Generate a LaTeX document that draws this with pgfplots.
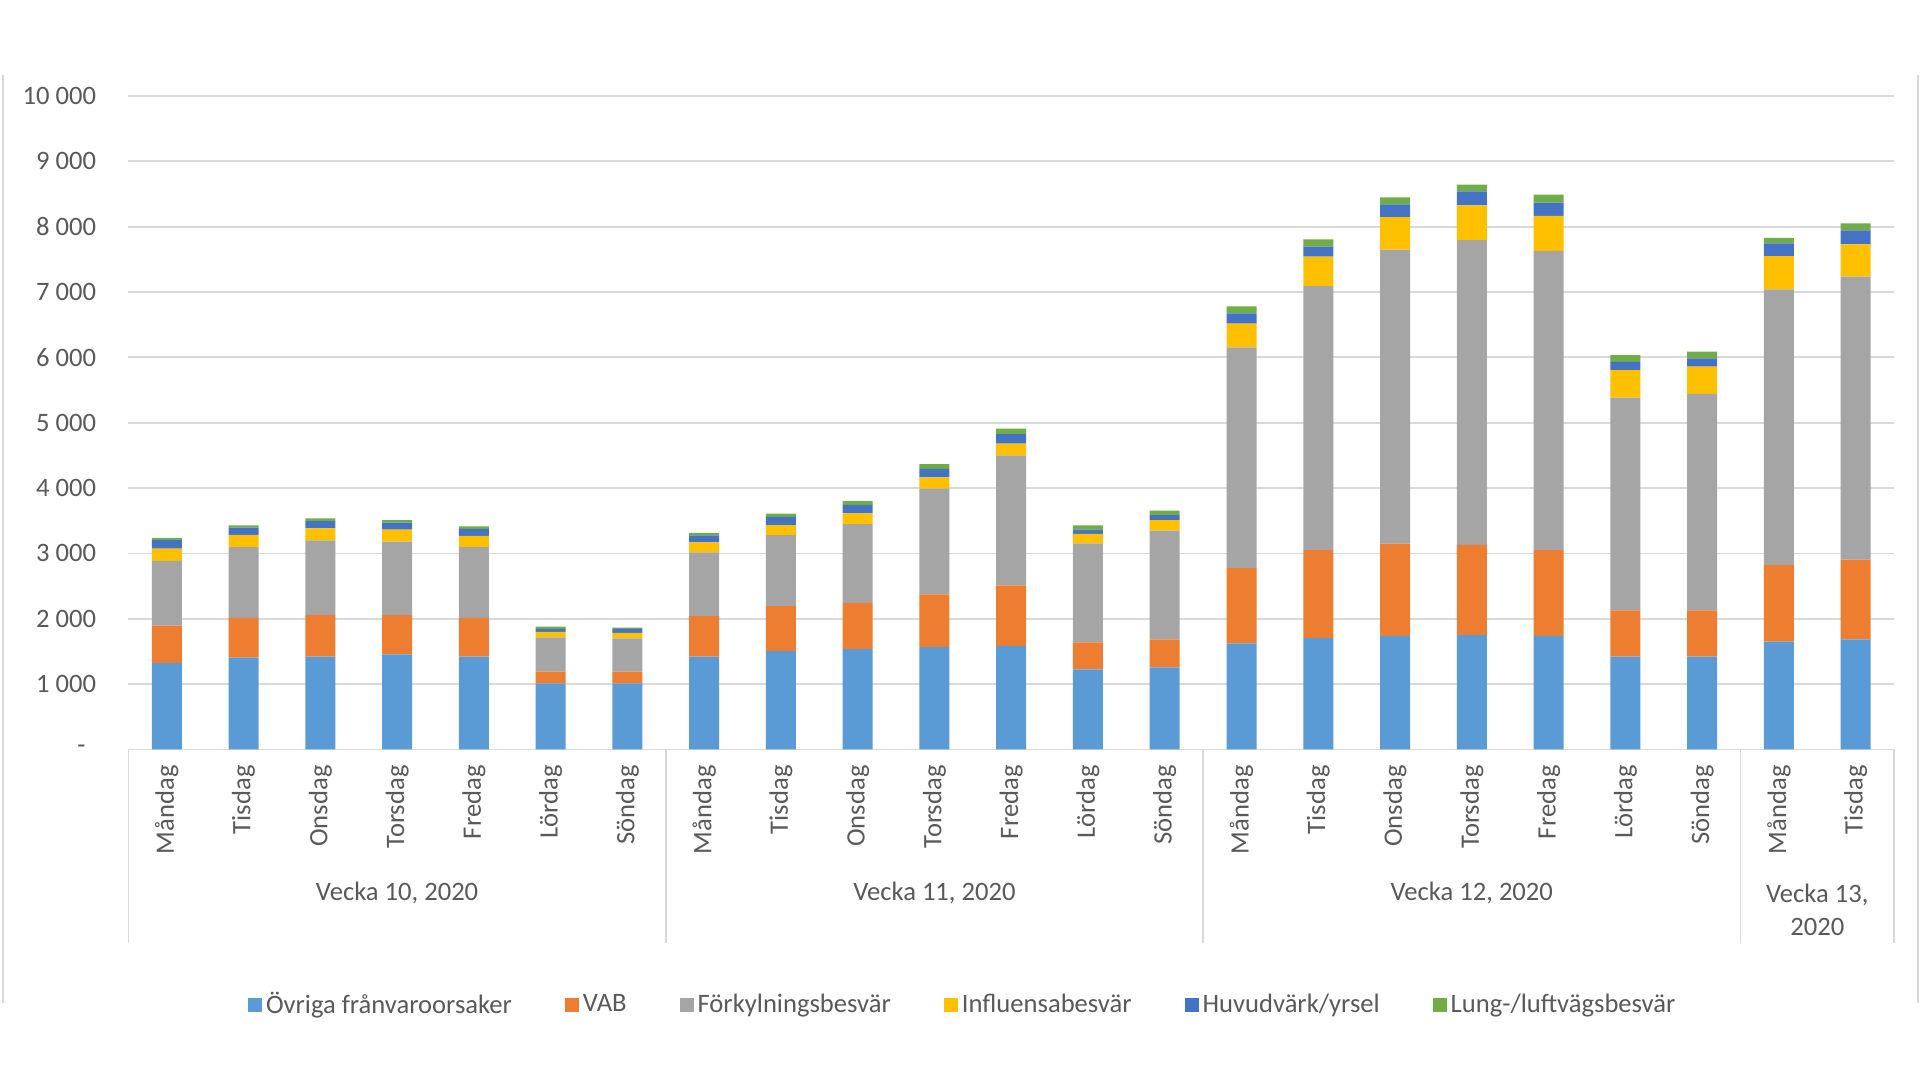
\documentclass[border=0pt]{standalone}
\usepackage{fontspec}
\setmainfont{Carlito}
\usepackage{pgfplots}
\usepackage{pgfplotstable}
\pgfplotsset{compat=1.18}
\definecolor{cA}{HTML}{5B9BD5}
\definecolor{cB}{HTML}{ED7D31}
\definecolor{cC}{HTML}{A5A5A5}
\definecolor{cD}{HTML}{FFC000}
\definecolor{cE}{HTML}{4472C4}
\definecolor{cF}{HTML}{70AD47}
\definecolor{txt}{HTML}{595959}
\definecolor{grd}{HTML}{D9D9D9}
\newcommand{\cf}{\fontsize{13.3}{16.5}\selectfont}
\newcommand{\zerolab}{-\rule{5.3pt}{0pt}}
\pgfplotstableread{
x o vab fork infl huv lung
0 1320 575 990 190 130 35
1 1405 610 1080 190 110 35
2 1420 640 1140 185 110 40
3 1455 600 1125 185 105 40
4 1420 595 1080 175 105 40
5 1010 180 525 85 45 35
6 1010 180 510 85 60 20
7 1420 620 975 155 105 40
8 1505 690 1085 155 125 50
9 1535 710 1205 165 130 55
10 1565 810 1615 175 130 70
11 1585 925 1990 180 145 85
12 1225 415 1515 145 65 65
13 1255 430 1665 160 75 70
14 1625 1150 3380 360 160 105
15 1705 1345 4040 450 155 110
16 1740 1410 4500 495 195 110
17 1750 1380 4665 530 215 105
18 1740 1310 4580 535 205 120
19 1420 710 3255 420 125 105
20 1420 710 3310 420 125 105
21 1650 1170 4220 510 195 85
22 1685 1220 4330 495 215 105
}\datatable
\pgfplotsset{sqleg/.style={legend image code/.code={\fill[##1] (0pt,-3.5pt) rectangle (7pt,3.5pt);}}}
\begin{document}
\begin{tikzpicture}
\useasboundingbox (0,0) rectangle (960pt,540pt);
\draw[grd, line width=0.8pt] (1.35pt,502.5pt) -- (1.35pt,38.5pt);
\draw[grd, line width=0.8pt] (959pt,502.5pt) -- (959pt,38.5pt);
\begin{axis}[
  at={(64.2pt,165.25pt)}, anchor=south west,
  scale only axis, width=882.8pt, height=326.75pt,
  ybar stacked, bar width=15pt,
  xmin=-0.5, xmax=22.5, ymin=0, ymax=10000,
  clip=false, scaled y ticks=false,
  axis x line*=bottom, axis y line*=left,
  x axis line style={grd, line width=0.9pt, -},
  y axis line style={draw=none},
  major tick length=0pt,
  ymajorgrids, grid style={grd, line width=0.9pt},
  ytick={0,1000,...,10000},
  yticklabels={\zerolab,1 000,2 000,3 000,4 000,5 000,6 000,7 000,8 000,9 000,10 000},
  yticklabel style={font=\cf, text=txt, anchor=east, inner sep=0pt, xshift=-16pt},
  xtick={0,...,22},
  xticklabels={Måndag,Tisdag,Onsdag,Torsdag,Fredag,Lördag,Söndag,Måndag,Tisdag,Onsdag,Torsdag,Fredag,Lördag,Söndag,Måndag,Tisdag,Onsdag,Torsdag,Fredag,Lördag,Söndag,Måndag,Tisdag},
  xticklabel style={font=\cf, text=txt, yshift=-7.75pt, rotate=90, anchor=east, inner sep=0pt},
  legend style={at={(0.4731,-0.3907)}, anchor=center, draw=none, fill=none,
    legend columns=6, font=\cf, text=txt,
    /tikz/every even column/.append style={column sep=24.5pt},
    nodes={inner sep=2pt}},
  legend cell align=left,
]
\addplot[fill=cA, draw=none, sqleg] table[x=x, y=o] {\datatable};
\addlegendentry{Övriga frånvaroorsaker}
\addplot[fill=cB, draw=none, sqleg] table[x=x, y=vab] {\datatable};
\addlegendentry{VAB}
\addplot[fill=cC, draw=none, sqleg] table[x=x, y=fork] {\datatable};
\addlegendentry{Förkylningsbesvär}
\addplot[fill=cD, draw=none, sqleg] table[x=x, y=infl] {\datatable};
\addlegendentry{Influensabesvär}
\addplot[fill=cE, draw=none, sqleg] table[x=x, y=huv] {\datatable};
\addlegendentry{Huvudvärk/yrsel}
\addplot[fill=cF, draw=none, sqleg] table[x=x, y=lung] {\datatable};
\addlegendentry{Lung-/luftvägsbesvär}
\draw[grd, line width=0.9pt] (axis cs:-0.5,0) -- ++(0pt,-96.75pt);
\draw[grd, line width=0.9pt] (axis cs:6.5,0) -- ++(0pt,-96.75pt);
\draw[grd, line width=0.9pt] (axis cs:13.5,0) -- ++(0pt,-96.75pt);
\draw[grd, line width=0.9pt] (axis cs:20.5,0) -- ++(0pt,-96.75pt);
\draw[grd, line width=0.9pt] (axis cs:22.5,0) -- ++(0pt,-96.75pt);
\node[font=\cf, text=txt] at ([yshift=-71.75pt]axis cs:3,0) {Vecka 10, 2020};
\node[font=\cf, text=txt] at ([yshift=-71.75pt]axis cs:10,0) {Vecka 11, 2020};
\node[font=\cf, text=txt] at ([yshift=-71.75pt]axis cs:17,0) {Vecka 12, 2020};
\node[font=\cf, text=txt, align=center] at ([yshift=-80pt]axis cs:21.5,0) {Vecka 13,\\2020};
\end{axis}
\end{tikzpicture}
\end{document}
